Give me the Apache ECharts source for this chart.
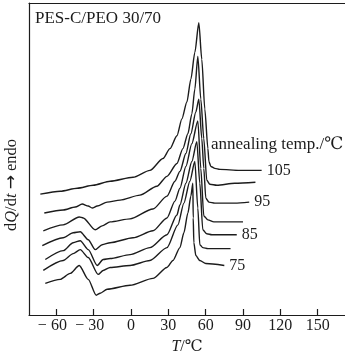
<!DOCTYPE html>
<html><head><meta charset="utf-8">
<script src="https://cdn.jsdelivr.net/npm/echarts@6/dist/echarts.min.js"></script>
<style>html,body{margin:0;padding:0;background:#fff}#c{width:345px;height:360px}</style>
</head><body><div id="c"></div>
<script>
// Annealing temperatures (°C) – one DSC trace each
const annealTemps = [105, 100, 95, 90, 85, 80, 75];
const labeledTemps = [105, 95, 85, 75];
const xTicks = [-60, -30, 0, 30, 60, 90, 120, 150];

// [T (°C), dQ/dt (arbitrary units, endo up, curves offset)]
const c105 = [[-72.9,12.2],[-56.9,12.5],[-43.2,12.8],[-30.4,13.1],[-16.8,13.5],[1.6,13.9],[15.2,14.6],[25.7,15.8],[31.3,16.8],[36.9,18.1],[40.9,19.8],[44.9,21.5],[48.1,23.8],[51.3,26.5],[54.5,29.5],[56.9,25.8],[59.3,20.8],[61.8,16.8],[62.6,15.5],[64.2,15.0],[67.4,14.8],[71.4,14.7],[87.4,14.6],[105,14.6]];
const c100 = [[-69.7,10.3],[-54.5,10.6],[-44.8,10.9],[-39.2,11.2],[-34.4,11.0],[-31.2,10.8],[-27.2,11.0],[-19.2,11.4],[-8.8,11.6],[7.2,12.1],[20.8,13.0],[28.9,14.0],[36.9,15.3],[41.7,16.8],[45.7,18.3],[48.9,20.3],[51.3,22.8],[53.7,26.1],[56.1,21.8],[58.5,17.8],[60.9,13.6],[63.4,13.2],[69.0,13.1],[83.4,13.3],[100,13.4]];
const c95 = [[-70.5,8.5],[-54.5,9.1],[-41.6,9.9],[-38.4,9.8],[-28.8,8.6],[-23.2,9.0],[-16.8,9.4],[-0.8,9.7],[17.6,10.7],[28.9,12.0],[35.3,13.5],[39.3,14.5],[44.1,16.3],[48.1,18.3],[52.1,20.5],[54.5,21.8],[56.9,17.8],[58.5,14.8],[60.1,11.8],[62.6,11.4],[67.4,11.3],[83.4,11.3],[95,11.4]];
const c90 = [[-71.3,7.0],[-54.5,7.8],[-46.5,8.3],[-40.8,8.4],[-34.4,7.6],[-28.8,6.6],[-23.2,7.1],[-16.8,7.3],[1.6,7.8],[17.6,8.5],[28.9,9.8],[35.3,11.5],[39.3,12.8],[44.1,15.0],[48.9,17.3],[53.7,19.6],[56.1,14.8],[58.5,10.0],[61.8,9.6],[66.6,9.4],[90,9.4]];
const c85 = [[-68.9,5.6],[-54.5,6.5],[-46.5,7.3],[-40.8,7.5],[-34.4,6.6],[-27.2,5.0],[-22.4,5.6],[-16.8,5.7],[-0.8,6.1],[15.2,6.8],[28.9,8.1],[36.9,10.1],[39.3,11.1],[44.1,13.3],[48.9,15.5],[52.9,17.5],[55.3,13.3],[57.7,8.6],[60.9,8.2],[65.0,8.1],[85,8.1]];
const c80 = [[-70.5,4.5],[-54.5,5.5],[-46.5,6.2],[-40.8,6.6],[-34.4,5.8],[-26.4,4.1],[-22.4,4.5],[-16.8,4.8],[-0.8,5.0],[15.2,5.5],[28.9,6.8],[37.7,9.1],[42.5,11.3],[47.3,13.5],[51.3,15.5],[53.7,10.8],[55.3,7.1],[57.7,6.8],[61.8,6.7],[80,6.7]];
const c75 = [[-68.9,3.2],[-56.9,3.6],[-48.9,4.2],[-41.6,5.0],[-34.4,3.6],[-28.0,2.0],[-24.8,2.2],[-19.2,2.6],[-0.8,3.0],[17.6,3.7],[28.9,4.8],[33.7,5.5],[39.3,6.8],[42.5,8.3],[45.7,10.3],[48.1,12.0],[49.7,13.3],[50.0,9.8],[50.5,7.3],[52.1,6.0],[55.3,5.5],[60.1,5.2],[75,5.0]];
const curves = [c105, c100, c95, c90, c85, c80, c75];

const FONT = '"Liberation Serif","DejaVu Serif",serif';
const INK = '#1c1c1c';

const chart = echarts.init(document.getElementById('c'), null, {renderer: 'canvas'});
const series = curves.map((d, i) => ({
  type: 'line',
  name: String(annealTemps[i]),
  data: d,
  showSymbol: false,
  symbol: 'none',
  smooth: 0.25,
  smoothMonotone: 'x',
  lineStyle: {color: INK, width: 1.4},
  endLabel: {
    show: labeledTemps.includes(annealTemps[i]),
    formatter: '{a}',
    distance: 5,
    color: INK,
    fontFamily: FONT,
    fontSize: 16
  },
  silent: true
}));

chart.setOption({
  animation: false,
  backgroundColor: '#fff',
  title: [
    {text: 'PES-C/PEO 30/70', left: 30, top: 5, textStyle: {fontFamily: FONT, fontSize: 17, fontWeight: 'normal', color: INK}},
    {text: 'annealing temp./℃', left: 206, top: 131, textStyle: {fontFamily: FONT, fontSize: 17, fontWeight: 'normal', color: INK}}
  ],
  grid: {left: 29, right: 0, top: 3, bottom: 42},
  xAxis: [{
    type: 'value', min: -82, max: 172,
    axisLine: {show: true, lineStyle: {color: INK, width: 1.2}},
    axisTick: {show: true, inside: true, length: 6, customValues: xTicks, lineStyle: {color: INK, width: 1.2}},
    axisLabel: {customValues: xTicks, margin: 3, color: INK, fontFamily: FONT, fontSize: 16,
      formatter: v => v < 0 ? '{n|− ' + Math.abs(v) + '}' : String(v),
      rich: {n: {padding: [0, 8, 0, 0], fontFamily: FONT, fontSize: 16, color: INK}}},
    splitLine: {show: false},
    name: '{i|T}/℃', nameLocation: 'middle', nameGap: 24,
    nameTextStyle: {color: INK, fontFamily: FONT, fontSize: 16, rich: {i: {fontStyle: 'italic', fontFamily: FONT, fontSize: 16, color: INK}}}
  }, {
    type: 'value', min: -82, max: 172, position: 'top',
    axisLine: {show: true, onZero: false, lineStyle: {color: INK, width: 1.2}},
    axisTick: {show: false}, axisLabel: {show: false}, splitLine: {show: false}
  }],
  yAxis: {
    type: 'value', min: 0, max: 31.5,
    axisLine: {show: true, onZero: false, lineStyle: {color: INK, width: 1.2}},
    axisTick: {show: false}, axisLabel: {show: false}, splitLine: {show: false}
  },
  graphic: [{
    type: 'text', x: 12, y: 185, rotation: Math.PI / 2,
    style: {
      text: 'd{i|Q}/d{i|t} {a|→} endo',
      rich: {
        i: {fontStyle: 'italic', fontFamily: FONT, fontSize: 16.5, fill: INK},
        a: {fontFamily: '"DejaVu Sans",sans-serif', fontSize: 17, fill: INK}
      },
      fontFamily: FONT, fontSize: 16.5, fill: INK,
      align: 'center', verticalAlign: 'middle'
    }
  }],
  series: series
});
</script>
</body></html>
